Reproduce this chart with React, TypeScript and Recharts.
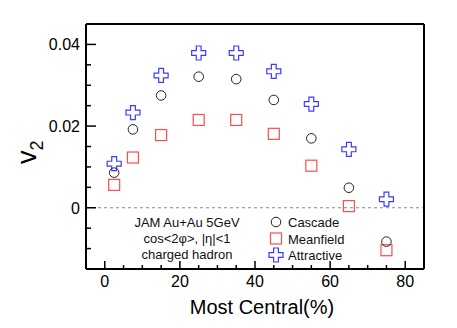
import { ScatterChart, Scatter, XAxis, YAxis, ReferenceLine, Legend } from "recharts";

const centrality = [2.5, 7.5, 15, 25, 35, 45, 55, 65, 75];
const cascade = [0.0086, 0.0192, 0.0275, 0.0321, 0.0315, 0.0264, 0.017, 0.0049, -0.0083];
const meanfield = [0.0056, 0.0123, 0.0178, 0.0215, 0.0215, 0.0181, 0.0103, 0.0004, -0.0104];
const attractive = [0.0108, 0.0233, 0.0324, 0.0379, 0.0379, 0.0334, 0.0254, 0.0143, 0.0021];

const xTicks = [0, 5, 10, 15, 20, 25, 30, 35, 40, 45, 50, 55, 60, 65, 70, 75, 80];
const yTicks = [-0.01, -0.005, 0, 0.005, 0.01, 0.015, 0.02, 0.025, 0.03, 0.035, 0.04];
const annotation = ["JAM Au+Au 5GeV", "cos<2\u03c6>, |\u03b7|<1", "charged hadron"];

const FONT = "'Liberation Sans', Arial, Helvetica, sans-serif";
const RED = "#ff4d4d";
const BLUE = "#3b3bff";
const DARK = "#222";

const toPoints = (ys: number[]) => centrality.map((x, i) => ({ x, y: ys[i] }));

const isMajorX = (v: number) => v % 20 === 0;
const isMajorY = (v: number) => Math.round(v * 1000) % 20 === 0;

const fmtY = (v: number) => (Math.abs(v) < 1e-9 ? "0" : v.toFixed(2));

const CircleMark = ({ cx, cy }: any) => (
  <circle cx={cx} cy={cy} r={4.8} fill="none" stroke={DARK} strokeWidth={1} />
);
const SquareMark = ({ cx, cy }: any) => (
  <rect x={cx - 5.5} y={cy - 5.5} width={11} height={11} fill="none" stroke={RED} strokeWidth={1.2} />
);
const crossPath = (cx: number, cy: number) => {
  const a = 2.4, l = 7;
  return `M${cx - a},${cy - l}H${cx + a}V${cy - a}H${cx + l}V${cy + a}H${cx + a}V${cy + l}H${cx - a}V${cy + a}H${cx - l}V${cy - a}H${cx - a}Z`;
};
const CrossMark = ({ cx, cy }: any) => (
  <path d={crossPath(cx, cy)} fill="none" stroke={BLUE} strokeWidth={1.2} />
);

const BottomTick = ({ x, y, payload }: any) => {
  const major = isMajorX(payload.value);
  return (
    <g>
      <line x1={x} x2={x} y1={y} y2={y - (major ? 8 : 4)} stroke="#000" strokeWidth={1.5} />
      {major && (
        <text x={x} y={y + 18} textAnchor="middle" fontSize={16} fontFamily={FONT} fill="#000">
          {payload.value}
        </text>
      )}
    </g>
  );
};
const TopTick = ({ x, y, payload }: any) => {
  const major = isMajorX(payload.value);
  return <line x1={x} x2={x} y1={y} y2={y + (major ? 8 : 4)} stroke="#000" strokeWidth={1.5} />;
};
const LeftTick = ({ x, y, payload }: any) => {
  const major = isMajorY(payload.value);
  return (
    <g>
      <line x1={x} x2={x + (major ? 10 : 5)} y1={y} y2={y} stroke="#000" strokeWidth={1.5} />
      {major && (
        <text x={x - 6} y={y + 6} textAnchor="end" fontSize={16} fontFamily={FONT} fill="#000">
          {fmtY(payload.value)}
        </text>
      )}
    </g>
  );
};
const RightTick = ({ x, y, payload }: any) => {
  const major = isMajorY(payload.value);
  return <line x1={x} x2={x - (major ? 10 : 5)} y1={y} y2={y} stroke="#000" strokeWidth={1.5} />;
};

const XTitle = () => (
  <text x={262} y={314} textAnchor="middle" fontSize={20} fontFamily={FONT} fill="#000">
    Most Central(%)
  </text>
);
const YTitle = () => (
  <text transform="translate(36,164) rotate(-90)" fontSize={27} fontFamily={FONT} fill="#000">
    v<tspan fontSize={18} dy={7}>2</tspan>
  </text>
);

const entries = [
  { name: "Cascade", mark: (cx: number, cy: number) => <circle cx={cx} cy={cy} r={4.8} fill="none" stroke={DARK} strokeWidth={1} /> },
  { name: "Meanfield", mark: (cx: number, cy: number) => <rect x={cx - 5.5} y={cy - 5.5} width={11} height={11} fill="none" stroke={RED} strokeWidth={1.2} /> },
  { name: "Attractive", mark: (cx: number, cy: number) => <path d={crossPath(cx, cy)} fill="none" stroke={BLUE} strokeWidth={1.2} /> },
];

const LegendBox = () => (
  <svg width={260} height={60} style={{ display: "block" }}>
    {annotation.map((t, i) => (
      <text key={t} x={87} y={19 + i * 16} textAnchor="middle" fontSize={13} fontFamily={FONT} fill="#111">
        {t}
      </text>
    ))}
    {entries.map((e, i) => (
      <g key={e.name}>
        {e.mark(176, 14 + i * 16.5)}
        <text x={188} y={19 + i * 16.5} fontSize={13} fontFamily={FONT} fill="#111">
          {e.name}
        </text>
      </g>
    ))}
  </svg>
);

const axisLine = { stroke: "#000", strokeWidth: 2 };

export default function App() {
  return (
    <div style={{ position: "absolute", left: 0, top: 0, background: "#fff" }}>
      <ScatterChart width={457} height={328} margin={{ top: 23, right: 32, bottom: 29, left: 46 }}>
        <XAxis
          xAxisId="b"
          type="number"
          dataKey="x"
          domain={[-5, 85]}
          ticks={xTicks}
          interval={0}
          height={30}
          tickSize={0}
          tickMargin={0}
          tickLine={false}
          tick={BottomTick}
          axisLine={axisLine}
          label={XTitle}
        />
        <XAxis
          xAxisId="t"
          orientation="top"
          type="number"
          domain={[-5, 85]}
          ticks={xTicks}
          interval={0}
          height={1}
          tickSize={0}
          tickMargin={0}
          tickLine={false}
          tick={TopTick}
          axisLine={axisLine}
        />
        <YAxis
          yAxisId="l"
          type="number"
          dataKey="y"
          domain={[-0.015, 0.045]}
          ticks={yTicks}
          interval={0}
          width={40}
          tickSize={0}
          tickMargin={0}
          tickLine={false}
          tick={LeftTick}
          axisLine={axisLine}
          label={YTitle}
        />
        <YAxis
          yAxisId="r"
          orientation="right"
          type="number"
          domain={[-0.015, 0.045]}
          ticks={yTicks}
          interval={0}
          width={1}
          tickSize={0}
          tickMargin={0}
          tickLine={false}
          tick={RightTick}
          axisLine={axisLine}
        />
        <ReferenceLine xAxisId="b" yAxisId="l" y={0} stroke="#8a8a8a" strokeDasharray="3 3" strokeWidth={1.2} />
        <Scatter xAxisId="b" yAxisId="l" name="Attractive" data={toPoints(attractive)} shape={CrossMark} isAnimationActive={false} />
        <Scatter xAxisId="b" yAxisId="l" name="Meanfield" data={toPoints(meanfield)} shape={SquareMark} isAnimationActive={false} />
        <Scatter xAxisId="b" yAxisId="l" name="Cascade" data={toPoints(cascade)} shape={CircleMark} isAnimationActive={false} />
        <Legend
          layout="vertical"
          align="center"
          verticalAlign="middle"
          content={LegendBox}
          wrapperStyle={{ left: 100, top: 208, width: 260, height: 60 }}
        />
      </ScatterChart>
    </div>
  );
}
